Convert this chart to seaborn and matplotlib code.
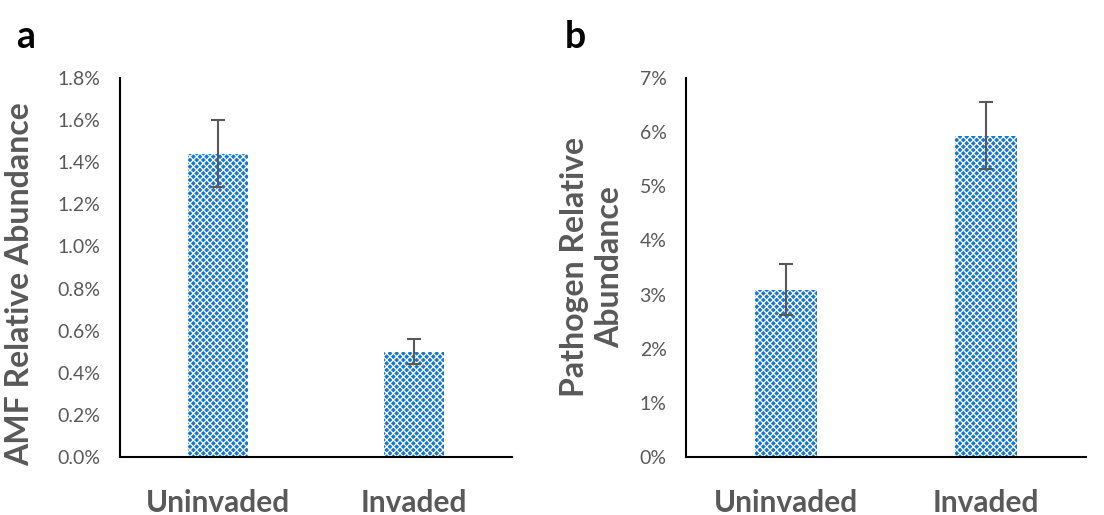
import numpy as np
import pandas as pd
import matplotlib
matplotlib.use("Agg")
import matplotlib.pyplot as plt
import seaborn as sns
from matplotlib.ticker import FuncFormatter

# data (percent)
groups = ["Uninvaded", "Invaded"]
amf_mean = [1.44, 0.50]
amf_err = [0.16, 0.06]
path_mean = [3.09, 5.93]
path_err = [0.47, 0.62]

sns.set_style("white")
plt.rcParams["font.family"] = ["Lato", "DejaVu Sans"]
plt.rcParams["hatch.linewidth"] = 0.9

bar_col = "#1578D0"
txt_col = "#595959"

fig = plt.figure(figsize=(11.04, 5.15), dpi=100)
ax1 = fig.add_axes([0.1087, 0.1126, 0.355, 0.736])
ax2 = fig.add_axes([0.6214, 0.1126, 0.3623, 0.736])


def draw_panel(ax, means, errs, ymax, step, fmt, ylabel):
    df = pd.DataFrame({"group": groups, "value": means})
    sns.barplot(data=df, x="group", y="value", ax=ax, color=bar_col,
                width=0.31, saturation=1, edgecolor="white", linewidth=0,
                hatch="xxxxx")
    ax.errorbar(np.arange(len(groups)), means, yerr=errs, fmt="none",
                ecolor=txt_col, elinewidth=1.5, capsize=5, capthick=1.5)
    ax.set_ylim(0, ymax)
    ax.set_xlim(-0.5, 1.5)
    ax.set_yticks(np.arange(0, ymax + step / 2, step))
    ax.yaxis.set_major_formatter(FuncFormatter(fmt))
    ax.tick_params(axis="y", length=0, labelsize=14, labelcolor=txt_col, pad=14)
    ax.tick_params(axis="x", length=0, labelsize=21.5, labelcolor=txt_col, pad=23)
    for lab in ax.get_xticklabels():
        lab.set_fontweight("bold")
    ax.set_xlabel("")
    ax.set_ylabel(ylabel, fontsize=23, fontweight="bold", color=txt_col,
                  linespacing=1.25)
    for s in ["top", "right"]:
        ax.spines[s].set_visible(False)
    for s in ["left", "bottom"]:
        ax.spines[s].set_color("black")
        ax.spines[s].set_linewidth(1.5)


draw_panel(ax1, amf_mean, amf_err, 1.8, 0.2, lambda v, p: f"{v:.1f}%",
           "AMF Relative Abundance")
draw_panel(ax2, path_mean, path_err, 7, 1, lambda v, p: f"{v:.0f}%",
           "Pathogen Relative\nAbundance")
ax1.yaxis.set_label_coords(-0.218, 0.455)
ax2.yaxis.set_label_coords(-0.155, 0.5)

fig.text(0.015, 0.962, "a", fontsize=27, fontweight="bold", color="black", va="top")
fig.text(0.512, 0.962, "b", fontsize=27, fontweight="bold", color="black", va="top")

fig.savefig("out.png", dpi=100)
